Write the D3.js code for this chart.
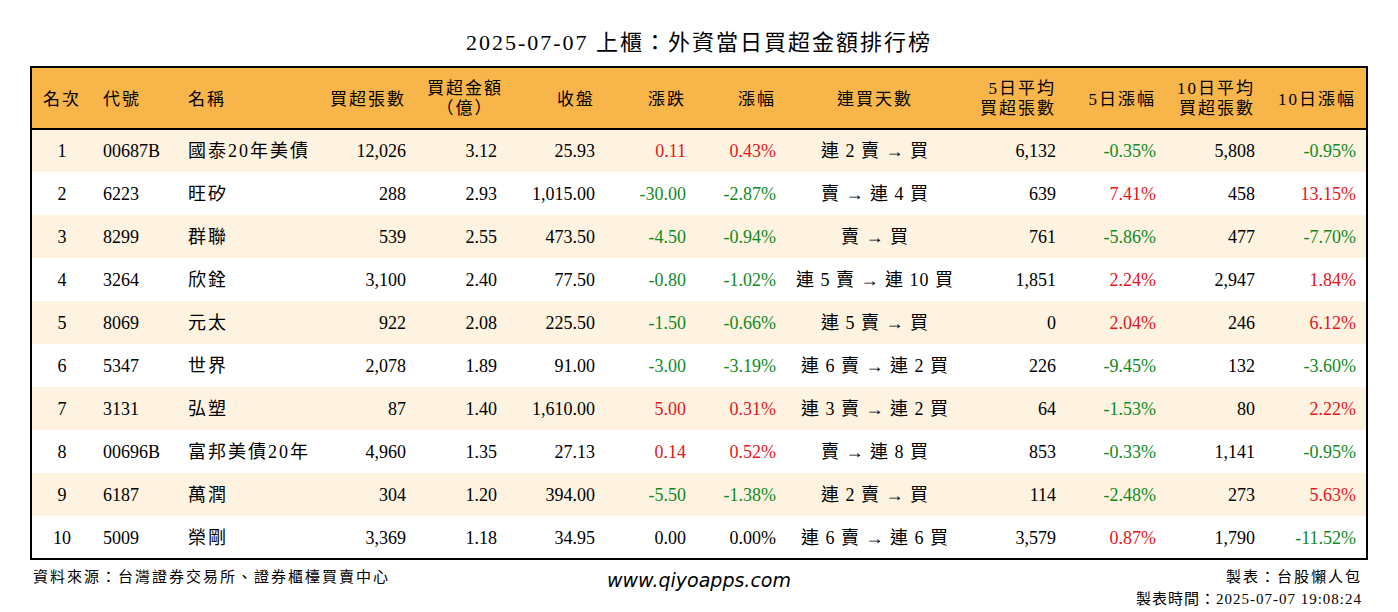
<!DOCTYPE html>
<html><head><meta charset="utf-8">
<script src="https://cdn.jsdelivr.net/npm/d3@7"></script>
<style>body{margin:0;background:#fff}</style>
</head><body>
<svg id="chart" width="1398" height="612"></svg>
<script>
const headers = ["名次","代號","名稱","買超張數","買超金額\n（億）","收盤","漲跌","漲幅","連買天數","5日平均\n買超張數","5日漲幅","10日平均\n買超張數","10日漲幅"];
const ranks = [1,2,3,4,5,6,7,8,9,10];
const codes = ["00687B","6223","8299","3264","8069","5347","3131","00696B","6187","5009"];
const names = ["國泰20年美債","旺矽","群聯","欣銓","元太","世界","弘塑","富邦美債20年","萬潤","榮剛"];
const buyLots = [12026,288,539,3100,922,2078,87,4960,304,3369];
const buyAmt = [3.12,2.93,2.55,2.40,2.08,1.89,1.40,1.35,1.20,1.18];
const closes = [25.93,1015.00,473.50,77.50,225.50,91.00,1610.00,27.13,394.00,34.95];
const changes = [0.11,-30.00,-4.50,-0.80,-1.50,-3.00,5.00,0.14,-5.50,0.00];
const pcts = [0.43,-2.87,-0.94,-1.02,-0.66,-3.19,0.31,0.52,-1.38,0.00];
const streaks = ["連 2 賣 → 買","賣 → 連 4 買","賣 → 買","連 5 賣 → 連 10 買","連 5 賣 → 買","連 6 賣 → 連 2 買","連 3 賣 → 連 2 買","賣 → 連 8 買","連 2 賣 → 買","連 6 賣 → 連 6 買"];
const avg5 = [6132,639,761,1851,0,226,64,853,114,3579];
const pct5 = [-0.35,7.41,-5.86,2.24,2.04,-9.45,-1.53,-0.33,-2.48,0.87];
const avg10 = [5808,458,477,2947,246,132,80,1141,273,1790];
const pct10 = [-0.95,13.15,-7.70,1.84,6.12,-3.60,2.22,-0.95,5.63,-11.52];

const svg = d3.select("#chart");
const font = "'Liberation Serif','Noto Sans CJK TC',serif";
const tLeft = 31, tRight = 1367, tTop = 67, headH = 62, rowH = 43;
const rowY = d3.scaleBand().domain(ranks).range([tTop + headH, tTop + headH + rowH * 10]);

// column anchors: [x, anchor]
const cols = [[62,"middle"],[103,"start"],[188,"start"],[406,"end"],[497,"end"],[595,"end"],[686,"end"],[776,"end"],[875,"middle"],[1056,"end"],[1156,"end"],[1255,"end"],[1356,"end"]];
const headX = [[43,"start"],[103,"start"],[188,"start"],[406,"end"],[465,"middle"],[595,"end"],[686,"end"],[776,"end"],[875,"middle"],[1056,"end"],[1156,"end"],[1255,"end"],[1356,"end"]];

const fmtInt = d3.format(",");
const fmt2 = d3.format(",.2f");
const pctF = v => v.toFixed(2) + "%";
const col = v => v > 0 ? "#e8141b" : v < 0 ? "#0f8a1f" : "#000";

svg.append("text").attr("x", 699).attr("y", 50).attr("text-anchor","middle").attr("letter-spacing", 2)
  .attr("font-family", font).attr("font-size", 22).text("2025-07-07 上櫃：外資當日買超金額排行榜");

svg.append("rect").attr("x", tLeft).attr("y", tTop).attr("width", tRight-tLeft).attr("height", headH).attr("fill","#f7b54a");
ranks.forEach((r,i) => {
  svg.append("rect").attr("x", tLeft).attr("y", rowY(r)).attr("width", tRight-tLeft).attr("height", rowY.bandwidth())
    .attr("fill", i % 2 === 0 ? "#fdf3e0" : "#fff");
});

headers.forEach((h,j) => {
  const lines = h.split("\n");
  const t = svg.append("text").attr("font-family", font).attr("font-size", 17).attr("letter-spacing", 2)
    .attr("text-anchor", headX[j][1]);
  lines.forEach((l,k) => {
    t.append("tspan").attr("x", headX[j][0]).attr("y", lines.length === 1 ? tTop + 38 : tTop + 27 + k*20).text(l);
  });
});

ranks.forEach((r,i) => {
  const cells = [
    [String(r),"#000"],[codes[i],"#000"],[names[i],"#000"],[fmtInt(buyLots[i]),"#000"],[buyAmt[i].toFixed(2),"#000"],
    [fmt2(closes[i]),"#000"],[changes[i].toFixed(2),col(changes[i])],[pctF(pcts[i]),col(pcts[i])],[streaks[i],"#000"],
    [fmtInt(avg5[i]),"#000"],[pctF(pct5[i]),col(pct5[i])],[fmtInt(avg10[i]),"#000"],[pctF(pct10[i]),col(pct10[i])]
  ];
  cells.forEach((c,j) => {
    svg.append("text").attr("x", cols[j][0]).attr("y", rowY(r) + 28).attr("text-anchor", cols[j][1])
      .attr("letter-spacing", j === 2 ? 2 : j === 8 ? 1 : 0)
      .attr("font-family", font).attr("font-size", 18).attr("fill", c[1]).text(c[0]);
  });
});

svg.append("line").attr("x1", tLeft).attr("x2", tRight).attr("y1", tTop+headH).attr("y2", tTop+headH).attr("stroke","#000").attr("stroke-width",2);
svg.append("rect").attr("x", tLeft).attr("y", tTop).attr("width", tRight-tLeft).attr("height", headH + rowH*10)
  .attr("fill","none").attr("stroke","#000").attr("stroke-width",2);

svg.append("text").attr("x", 33).attr("y", 582).attr("font-family", font).attr("font-size", 15).attr("letter-spacing", 2).text("資料來源：台灣證券交易所、證券櫃檯買賣中心");
svg.append("text").attr("x", 699).attr("y", 587).attr("text-anchor","middle").attr("font-family","'DejaVu Sans',sans-serif")
  .attr("font-style","italic").attr("font-size", 19).text("www.qiyoapps.com");
svg.append("text").attr("x", 1362).attr("y", 582).attr("text-anchor","end").attr("font-family", font).attr("font-size", 15).attr("letter-spacing", 2).text("製表：台股懶人包");
svg.append("text").attr("x", 1362).attr("y", 604).attr("text-anchor","end").attr("font-family", font).attr("font-size", 15).attr("letter-spacing", 1).text("製表時間：2025-07-07 19:08:24");
</script>
</body></html>
